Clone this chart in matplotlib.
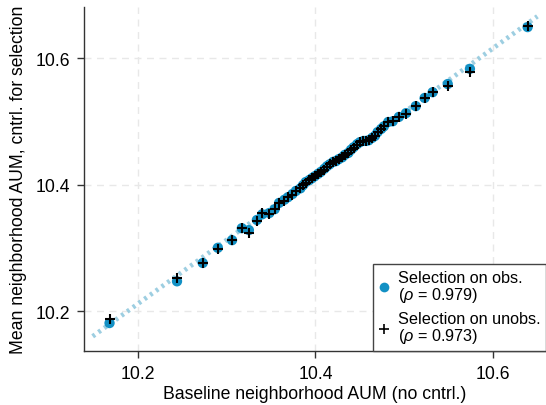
import matplotlib
matplotlib.use("Agg")
import matplotlib.pyplot as plt
from matplotlib.lines import Line2D

# baseline neighborhood AUM (x) and the two selection-controlled means (y)
base_aum = [10.168, 10.244, 10.273, 10.290, 10.306, 10.317, 10.325, 10.334, 10.340, 10.348,
            10.354, 10.359, 10.365, 10.369, 10.374, 10.378, 10.383, 10.386, 10.389, 10.393,
            10.396, 10.399, 10.403, 10.406, 10.410, 10.413, 10.416, 10.420, 10.423, 10.426,
            10.430, 10.433, 10.437, 10.440, 10.443, 10.447, 10.450, 10.454, 10.457, 10.460,
            10.464, 10.467, 10.470, 10.474, 10.477, 10.482, 10.487, 10.494, 10.502, 10.513,
            10.523, 10.532, 10.549, 10.574, 10.639]
sel_obs = [10.181, 10.247, 10.276, 10.300, 10.312, 10.331, 10.328, 10.344, 10.353, 10.355,
           10.361, 10.371, 10.376, 10.380, 10.385, 10.390, 10.394, 10.399, 10.404, 10.407,
           10.410, 10.413, 10.417, 10.420, 10.425, 10.429, 10.432, 10.436, 10.437, 10.440,
           10.443, 10.447, 10.450, 10.455, 10.459, 10.464, 10.467, 10.469, 10.469, 10.470,
           10.474, 10.477, 10.483, 10.488, 10.492, 10.499, 10.500, 10.507, 10.513, 10.524,
           10.537, 10.546, 10.559, 10.583, 10.649]
sel_unobs = [10.187, 10.252, 10.276, 10.298, 10.312, 10.331, 10.323, 10.342, 10.355, 10.353,
             10.361, 10.371, 10.374, 10.380, 10.383, 10.390, 10.394, 10.399, 10.402, 10.407,
             10.410, 10.413, 10.417, 10.420, 10.423, 10.428, 10.432, 10.436, 10.437, 10.440,
             10.443, 10.447, 10.450, 10.455, 10.458, 10.462, 10.467, 10.469, 10.469, 10.470,
             10.474, 10.477, 10.483, 10.488, 10.492, 10.499, 10.500, 10.507, 10.511, 10.524,
             10.537, 10.546, 10.556, 10.578, 10.651]

# fitted line endpoints
fit_x = [10.149, 10.650]
fit_y = [10.160, 10.666]

rho_obs = 0.979
rho_unobs = 0.973

ticks = [10.2, 10.4, 10.6]

plt.rcParams['font.family'] = ['Liberation Sans', 'DejaVu Sans']
plt.rcParams['mathtext.fontset'] = 'custom'
plt.rcParams['mathtext.it'] = 'Liberation Sans:italic'
plt.rcParams['mathtext.rm'] = 'Liberation Sans'

fig = plt.figure(figsize=(5.46, 4.06), dpi=100)
ax = fig.add_axes([0.1538, 0.133, 0.8462, 0.847])

blue = '#1290c4'

ax.plot(fit_x, fit_y, color='#8cc6dc', lw=3.4, ls=(0, (0.6, 0.9)), alpha=0.85, zorder=2)
ax.scatter(base_aum, sel_obs, s=55, color=blue, edgecolors='none', zorder=3)
ax.scatter(base_aum, sel_unobs, s=55, marker='+', color='black', linewidths=1.5, zorder=4)

ax.set_xlim(10.1392, 10.6597)
ax.set_ylim(10.1368, 10.6806)
ax.set_xticks(ticks)
ax.set_yticks(ticks)
ax.set_xticklabels([f"{t:.1f}" for t in ticks])
ax.set_yticklabels([f"{t:.1f}" for t in ticks])
ax.grid(True, color='#e8e8e8', ls=(0, (5, 4)), lw=1)
ax.set_axisbelow(True)

for side in ['top', 'right']:
    ax.spines[side].set_visible(False)
for side in ['left', 'bottom']:
    ax.spines[side].set_color('#333333')
    ax.spines[side].set_linewidth(1.0)
ax.tick_params(direction='out', length=5, width=1, color='#333333', labelsize=12.7, pad=5)

ax.set_xlabel('Baseline neighborhood AUM (no cntrl.)', fontsize=12.7, labelpad=2)
ax.set_ylabel('Mean neighborhood AUM, cntrl. for selection', fontsize=12.7, labelpad=6)

handles = [
    Line2D([], [], ls='none', marker='o', markersize=7, color=blue, markeredgewidth=0),
    Line2D([], [], ls='none', marker='+', markersize=7, color='black', markeredgewidth=1.2),
]
labels = [
    f"Selection on obs.\n($\\rho$ = {rho_obs:.3f})",
    f"Selection on unobs.\n($\\rho$ = {rho_unobs:.3f})",
]
leg = ax.legend(handles, labels, loc='lower right', borderaxespad=0, fancybox=False,
                frameon=True, edgecolor='#444444', framealpha=1, fontsize=11.7,
                handlelength=0.7, handletextpad=0.5, labelspacing=0.45, borderpad=0.35)
for t in leg.get_texts():
    t.set_linespacing(1.0)
leg.get_frame().set_linewidth(1.0)

fig.savefig('out.png', dpi=100)
